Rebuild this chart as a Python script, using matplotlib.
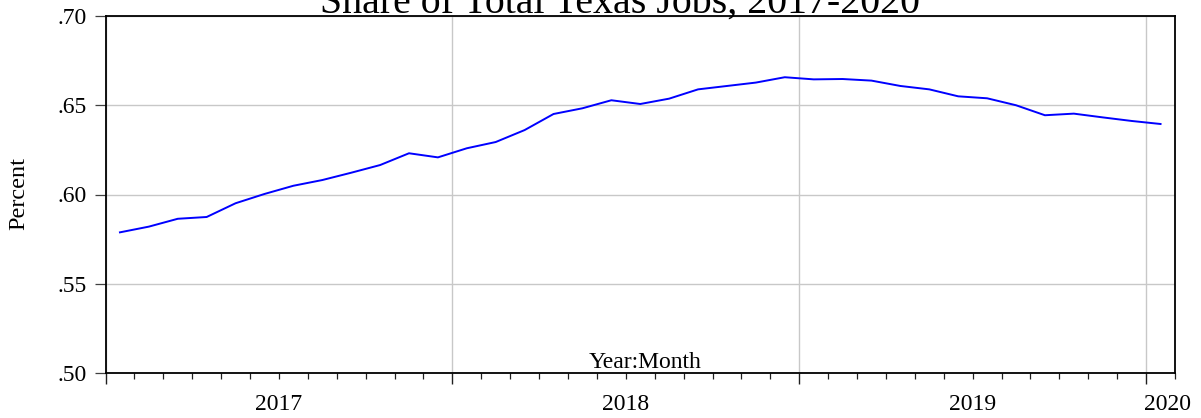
import matplotlib
matplotlib.use("Agg")
import matplotlib.pyplot as plt
import matplotlib.transforms as mtransforms
import numpy as np

# Monthly share of total Texas jobs, 2017M01 - 2020M01
start_year = 2017
share = [
    0.5788, 0.5820, 0.5864, 0.5874, 0.5951, 0.6003, 0.6049, 0.6081,
    0.6122, 0.6165, 0.6231, 0.6208, 0.6259, 0.6294, 0.6361, 0.6451,
    0.6483, 0.6528, 0.6507, 0.6537, 0.6589, 0.6608, 0.6627, 0.6657,
    0.6645, 0.6647, 0.6638, 0.6608, 0.6589, 0.6550, 0.6539, 0.6500,
    0.6444, 0.6453, 0.6432, 0.6412, 0.6395,
]
year_labels = ["2017", "2018", "2019", "2020"]
y_ticks = [0.50, 0.55, 0.60, 0.65, 0.70]
y_tick_labels = [".50", ".55", ".60", ".65", ".70"]

plt.rcParams["font.family"] = ["Liberation Serif", "DejaVu Serif"]

fig = plt.figure(figsize=(12.01, 4.18), dpi=100)
ax = fig.add_axes([105.5 / 1201, 1 - 373 / 418, (1175 - 105.5) / 1201, 357 / 418])

n = len(share)
x = np.arange(n) + 0.5  # each observation drawn at the middle of its month
ax.plot(x, share, color="#0000ff", lw=1.4, zorder=3)

ax.set_xlim(0, n)
ax.set_ylim(0.50, 0.70)

# year boundaries as major ticks, months as minor ticks
year_edges = [12 * k for k in range(len(year_labels))]
ax.set_xticks(year_edges)
ax.set_xticks(np.arange(0, n + 1), minor=True)
ax.set_xticklabels([])
ax.tick_params(axis="x", which="major", direction="out", length=8, width=1.0,
               color="#202020")
ax.tick_params(axis="x", which="minor", direction="out", length=4.3, width=0.9,
               color="#202020")

ax.set_yticks(y_ticks)
ax.set_yticklabels(y_tick_labels, fontsize=17)
ax.tick_params(axis="y", direction="out", length=8, width=0.9, color="#404040",
               pad=5.5)

ax.grid(True, which="major", color="#c8c8c8", lw=1.0, zorder=1)
for sp in ax.spines.values():
    sp.set_linewidth(1.3)
    sp.set_color("black")
    sp.set_zorder(4)

# year labels centred in each year's span
trans = mtransforms.blended_transform_factory(ax.transData, ax.transAxes)
label_pos = [6, 18, 30, 36.75]
for pos, lab in zip(label_pos, year_labels):
    ax.text(pos, -0.1036, lab, transform=trans, ha="center", va="baseline",
            fontsize=17, clip_on=False)

ax.text(0.505, 0.014, "Year:Month", transform=ax.transAxes, ha="center",
        va="baseline", fontsize=17)

fig.text(18.5 / 1201, 1 - 193 / 418, "Percent", rotation=90, ha="center",
         va="center", fontsize=17.5)

fig.text(620 / 1201, 1 - 13 / 418, "Share of Total Texas Jobs, 2017-2020",
         ha="center", va="baseline", fontsize=28.7)

fig.savefig("out.png", dpi=100)
